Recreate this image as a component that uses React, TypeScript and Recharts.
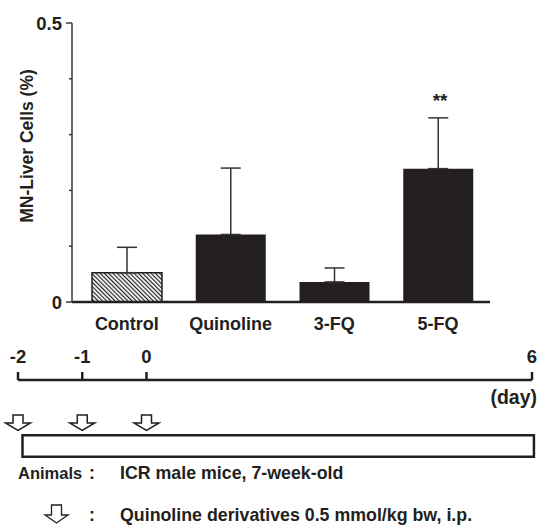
import React from 'react';
import {
  BarChart,
  Bar,
  XAxis,
  YAxis,
  ErrorBar,
  Cell,
  ReferenceDot,
  ComposedChart,
  Scatter,
  ReferenceArea,
} from 'recharts';

// ---------- data ----------
const categories = ['Control', 'Quinoline', '3-FQ', '5-FQ'];
const meanValues = [0.0525, 0.121, 0.036, 0.239];
const sdValues = [0.0455, 0.119, 0.025, 0.091];
const yTicks = [0, 0.1, 0.2, 0.3, 0.4, 0.5];
const yTickLabels = ['0', '', '', '', '', '0.5'];
const significance = [{ category: '5-FQ', y: 0.349, text: '**' }];
const yAxisTitle = 'MN-Liver Cells (%)';

const dayTicks = [-2, -1, 0, 6];
const dayTickLabels = ['-2', '-1', '0', '6'];
const doseDays = [-2, -1, 0];
const doseLevel = 0.4625;
const periodBox = { start: -1.93, end: 6.03, low: 0.04, high: 0.31 };

const legendLines = [
  { key: 'Animals', sep: ':', text: 'ICR male mice, 7-week-old' },
  { key: '', sep: ':', text: 'Quinoline derivatives 0.5 mmol/kg bw, i.p.' },
];

// ---------- styling ----------
const INK = '#231f20';
const FONT = '"Liberation Sans", Arial, Helvetica, sans-serif';

const barData = categories.map((name, i) => ({
  name,
  value: meanValues[i],
  err: [0, sdValues[i]],
}));

const doseData = doseDays.map((day) => ({ day, level: doseLevel }));

const renderYTick = (props: any) => {
  const { x, y, payload } = props;
  const idx = yTicks.indexOf(payload.value);
  const label = idx >= 0 ? yTickLabels[idx] : '';
  const major = label !== '';
  return (
    <g>
      <line
        x1={x + 4 + (major ? 0 : 3)}
        x2={x + 10}
        y1={y}
        y2={y}
        stroke="#3a3a3a"
        strokeWidth={1.5}
      />
      {major && (
        <text
          x={x}
          y={y}
          dy="0.36em"
          textAnchor="end"
          fontSize={18.5}
          fontWeight="bold"
          fontFamily={FONT}
          fill={INK}
        >
          {label}
        </text>
      )}
    </g>
  );
};

const renderYLabel = () => (
  <text
    x={27}
    y={146}
    transform="rotate(-90, 27, 146)"
    textAnchor="middle"
    dy="0.36em"
    fontSize={17.5}
    fontWeight="bold"
    fontFamily={FONT}
    fill={INK}
  >
    {yAxisTitle}
  </text>
);

const renderStars = (text: string) => (props: any) => {
  const vb = props.viewBox || {};
  const cx = (vb.x || 0) + (vb.width || 0) / 2;
  const cy = (vb.y || 0) + (vb.height || 0) / 2;
  return (
    <text
      x={cx + 2}
      y={cy}
      textAnchor="middle"
      fontSize={19}
      fontWeight="bold"
      fontFamily={FONT}
      fill={INK}
    >
      {text}
    </text>
  );
};

const renderArrow = (props: any) => {
  const { cx, cy } = props;
  const d = `M${cx - 5},${cy - 8} L${cx + 5},${cy - 8} L${cx + 5},${cy} L${cx + 12.5},${cy} L${cx},${cy + 7.5} L${cx - 12.5},${cy} L${cx - 5},${cy} Z`;
  return <path d={d} fill="#fff" stroke={INK} strokeWidth={1.5} strokeLinejoin="miter" />;
};

export default function App() {
  return (
    <div
      style={{
        position: 'absolute',
        left: 0,
        top: 0,
        width: 539,
        height: 530,
        background: '#fff',
        fontFamily: FONT,
        overflow: 'hidden',
      }}
    >
      <svg width={0} height={0} style={{ position: 'absolute' }}>
        <defs>
          <pattern
            id="hatch"
            patternUnits="userSpaceOnUse"
            width={3}
            height={3}
            patternTransform="rotate(-45)"
          >
            <rect width={3} height={3} fill="#fff" />
            <line x1={0.6} y1={0} x2={0.6} y2={3} stroke={INK} strokeWidth={1.2} />
          </pattern>
        </defs>
      </svg>

      <div style={{ position: 'absolute', left: 0, top: 0 }}>
        <BarChart
          width={539}
          height={340}
          data={barData}
          margin={{ top: 23, right: 49, bottom: 7, left: 0 }}
          barSize={70}
        >
          <XAxis
            dataKey="name"
            height={31}
            tickSize={0}
            tickMargin={15}
            tickLine={false}
            interval={0}
            padding={{ left: 3, right: 0 }}
            axisLine={{ stroke: INK, strokeWidth: 2.5 }}
            tick={{ fontSize: 18, fontWeight: 'bold', fill: INK, fontFamily: FONT }}
          />
          <YAxis
            width={72}
            type="number"
            domain={[0, 0.5]}
            ticks={yTicks}
            interval={0}
            tickSize={6}
            tickMargin={4}
            tickLine={false}
            axisLine={{ stroke: '#3a3a3a', strokeWidth: 1.5 }}
            tick={renderYTick}
            label={{ content: renderYLabel }}
          />
          <Bar dataKey="value" isAnimationActive={false}>
            {barData.map((d, i) => (
              <Cell
                key={d.name}
                fill={i === 0 ? 'url(#hatch)' : INK}
                stroke={i === 0 ? INK : 'none'}
                strokeWidth={i === 0 ? 1.5 : 0}
              />
            ))}
            <ErrorBar
              dataKey="err"
              width={10}
              stroke="#333"
              strokeWidth={1.5}
              direction="y"
              isAnimationActive={false}
            />
          </Bar>
          {significance.map((s) => (
            <ReferenceDot
              key={s.category}
              x={s.category}
              y={s.y}
              r={0}
              fill="none"
              stroke="none"
              label={{ content: renderStars(s.text) }}
            />
          ))}
        </BarChart>
      </div>

      <div style={{ position: 'absolute', left: 0, top: 330 }}>
        <ComposedChart
          width={539}
          height={135}
          data={doseData}
          margin={{ top: 10, right: 7, bottom: 5, left: 18 }}
        >
          <XAxis
            type="number"
            dataKey="day"
            orientation="top"
            domain={[-2, 6]}
            ticks={dayTicks}
            interval={0}
            height={40}
            tickSize={8}
            tickMargin={9}
            tickFormatter={(v: number) => dayTickLabels[dayTicks.indexOf(v)] ?? String(v)}
            axisLine={{ stroke: INK, strokeWidth: 2.5 }}
            tickLine={{ stroke: INK, strokeWidth: 2.5 }}
            tick={{ fontSize: 18.5, fontWeight: 'bold', fill: INK, fontFamily: FONT }}
          />
          <YAxis type="number" domain={[0, 1]} hide />
          <ReferenceArea
            x1={periodBox.start}
            x2={periodBox.end}
            y1={periodBox.low}
            y2={periodBox.high}
            fill="#fff"
            fillOpacity={1}
            stroke={INK}
            strokeWidth={2.5}
            ifOverflow="visible"
          />
          <Scatter dataKey="level" shape={renderArrow} isAnimationActive={false} />
        </ComposedChart>
      </div>

      <svg
        width={539}
        height={530}
        style={{ position: 'absolute', left: 0, top: 0, pointerEvents: 'none' }}
      >
        <text
          x={537}
          y={404}
          textAnchor="end"
          fontSize={19.5}
          fontWeight="bold"
          fontFamily={FONT}
          fill={INK}
        >
          (day)
        </text>
        {legendLines.map((l, i) => {
          const base = i === 0 ? 478.5 : 521;
          return (
            <g key={i} fontSize={17.8} fontWeight="bold" fontFamily={FONT} fill={INK}>
              {l.key && (
                <text x={18} y={base} fontSize={16.5}>
                  {l.key}
                </text>
              )}
              <text x={92} y={base} textAnchor="middle">
                {l.sep}
              </text>
              <text x={120} y={base}>
                {l.text}
              </text>
            </g>
          );
        })}
        <path
          d="M51.5,505 L61.5,505 L61.5,515 L68,515 L56.5,523 L45,515 L51.5,515 Z"
          fill="#fff"
          stroke={INK}
          strokeWidth={1.3}
        />
      </svg>
    </div>
  );
}
